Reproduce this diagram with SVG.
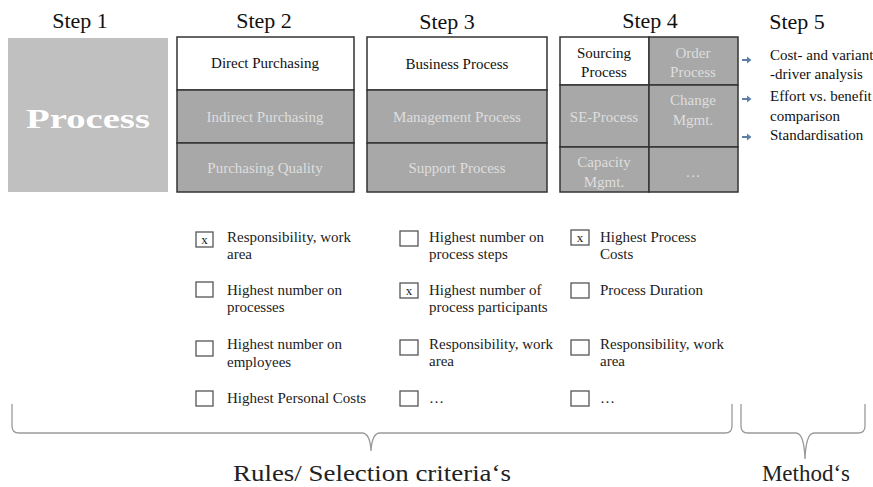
<svg xmlns="http://www.w3.org/2000/svg" width="873" height="487" viewBox="0 0 873 487">
<defs>
<style>
text{font-family:"Liberation Serif","Times New Roman",Times,"DejaVu Serif",serif;}
.step{font-size:22px;fill:#111;text-anchor:middle;}
.cell{font-size:15px;text-anchor:middle;}
.dk{fill:#111;}
.lt{fill:#dedede;}
.g{fill:#a8a8a8;stroke:#333;stroke-width:1.5;}
.w{fill:#fff;stroke:#333;stroke-width:1.5;}
.crit{font-size:15px;fill:#222;}
.cb{fill:#fff;stroke:#555;stroke-width:1.3;}
.x{font-size:13px;fill:#222;text-anchor:middle;}
.m5{font-size:15px;fill:#111;}
.brace{fill:none;stroke:#9a9a9a;stroke-width:1.3;}
.lab{font-size:23px;fill:#222;text-anchor:middle;}
.arr{fill:#5b7fa6;}
</style>
</defs>
<g font-family="'Liberation Serif', 'Times New Roman', 'DejaVu Serif', serif">
<g id="step-labels">
<text class="step" x="80" y="28">Step 1</text>
<text class="step" x="264" y="28">Step 2</text>
<text class="step" x="447" y="29">Step 3</text>
<text class="step" x="650" y="28">Step 4</text>
<text class="step" x="797" y="29">Step 5</text>
</g>

<g id="step1">
<rect x="8" y="38" width="160" height="154" fill="#c0c0c0"/>
<text x="88" y="128" font-size="27" font-weight="bold" fill="#fff" text-anchor="middle" textLength="124" lengthAdjust="spacingAndGlyphs">Process</text>
</g>

<g id="step2">
<rect class="w" x="177" y="37" width="177" height="53"/>
<rect class="g" x="177" y="90" width="177" height="53"/>
<rect class="g" x="177" y="143" width="177" height="49"/>
<text class="cell dk" x="265" y="68">Direct Purchasing</text>
<text class="cell lt" x="265" y="122">Indirect Purchasing</text>
<text class="cell lt" x="265" y="173">Purchasing Quality</text>
</g>

<g id="step3">
<rect class="w" x="367" y="37" width="180" height="53"/>
<rect class="g" x="367" y="90" width="180" height="53"/>
<rect class="g" x="367" y="143" width="180" height="49"/>
<text class="cell dk" x="457" y="69">Business Process</text>
<text class="cell lt" x="457" y="122">Management Process</text>
<text class="cell lt" x="457" y="173">Support Process</text>
</g>

<g id="step4">
<rect class="w" x="560" y="37" width="89" height="48"/>
<rect class="g" x="649" y="37" width="89" height="48"/>
<rect class="g" x="560" y="85" width="89" height="62"/>
<rect class="g" x="649" y="85" width="89" height="62"/>
<rect class="g" x="560" y="147" width="89" height="45"/>
<rect class="g" x="649" y="147" width="89" height="45"/>
<text class="cell dk" x="604" y="58">Sourcing</text>
<text class="cell dk" x="604" y="77">Process</text>
<text class="cell lt" x="693" y="58">Order</text>
<text class="cell lt" x="693" y="77">Process</text>
<text class="cell lt" x="604" y="122">SE-Process</text>
<text class="cell lt" x="693" y="105">Change</text>
<text class="cell lt" x="693" y="125">Mgmt.</text>
<text class="cell lt" x="604" y="167">Capacity</text>
<text class="cell lt" x="604" y="187">Mgmt.</text>
<text class="cell lt" x="693" y="177">…</text>
</g>

<g id="step5">
<path class="arr" d="M742,59 h5 v-2.5 l4.5,3.5 l-4.5,3.5 v-2.5 h-5 z"/>
<path class="arr" d="M742,98 h5 v-2.5 l4.5,3.5 l-4.5,3.5 v-2.5 h-5 z"/>
<path class="arr" d="M742,136 h5 v-2.5 l4.5,3.5 l-4.5,3.5 v-2.5 h-5 z"/>
<text class="m5" x="770" y="60">Cost- and variant</text>
<text class="m5" x="770" y="79">-driver analysis</text>
<text class="m5" x="770" y="101">Effort vs. benefit</text>
<text class="m5" x="770" y="121">comparison</text>
<text class="m5" x="770" y="140">Standardisation</text>
</g>

<g id="criteria-step2">
<rect class="cb" x="196" y="232" width="17" height="15"/><text class="x" x="204.5" y="244">x</text>
<text class="crit" x="227" y="242">Responsibility, work</text>
<text class="crit" x="227" y="259">area</text>
<rect class="cb" x="196" y="282" width="17" height="15"/>
<text class="crit" x="227" y="295">Highest number on</text>
<text class="crit" x="227" y="312">processes</text>
<rect class="cb" x="196" y="341" width="17" height="15"/>
<text class="crit" x="227" y="349">Highest number on</text>
<text class="crit" x="227" y="367">employees</text>
<rect class="cb" x="196" y="391" width="17" height="15"/>
<text class="crit" x="227" y="403">Highest Personal Costs</text>
</g>

<g id="criteria-step3">
<rect class="cb" x="400" y="231" width="18" height="15"/>
<text class="crit" x="429" y="242">Highest number on</text>
<text class="crit" x="429" y="259">process steps</text>
<rect class="cb" x="400" y="283" width="18" height="15"/><text class="x" x="409" y="295">x</text>
<text class="crit" x="429" y="295">Highest number of</text>
<text class="crit" x="429" y="312">process participants</text>
<rect class="cb" x="400" y="340" width="18" height="15"/>
<text class="crit" x="429" y="349">Responsibility, work</text>
<text class="crit" x="429" y="366">area</text>
<rect class="cb" x="400" y="391" width="18" height="15"/>
<text class="crit" x="429" y="403">…</text>
</g>

<g id="criteria-step4">
<rect class="cb" x="571" y="230" width="18" height="15"/><text class="x" x="580" y="242">x</text>
<text class="crit" x="600" y="242">Highest Process</text>
<text class="crit" x="600" y="259">Costs</text>
<rect class="cb" x="571" y="283" width="18" height="15"/>
<text class="crit" x="600" y="295">Process Duration</text>
<rect class="cb" x="571" y="340" width="18" height="15"/>
<text class="crit" x="600" y="349">Responsibility, work</text>
<text class="crit" x="600" y="366">area</text>
<rect class="cb" x="571" y="391" width="18" height="15"/>
<text class="crit" x="600" y="403">…</text>
</g>

<g id="connectors">
<path class="brace" d="M12,404 V426 Q12,433 19,433 H362 Q370,433 371,451 Q372,433 380,433 H725 Q732,433 732,426 V404"/>
<path class="brace" d="M741,404 V426 Q741,433 748,433 H796 Q804,433 805,459 Q806,433 814,433 H858 Q865,433 865,426 V404"/>
</g>

<g id="bottom-labels">
<text class="lab" x="372" y="481" textLength="278" lengthAdjust="spacingAndGlyphs">Rules/ Selection criteria‘s</text>
<text class="lab" x="806" y="481">Method‘s</text>
</g>
</g>
</svg>
